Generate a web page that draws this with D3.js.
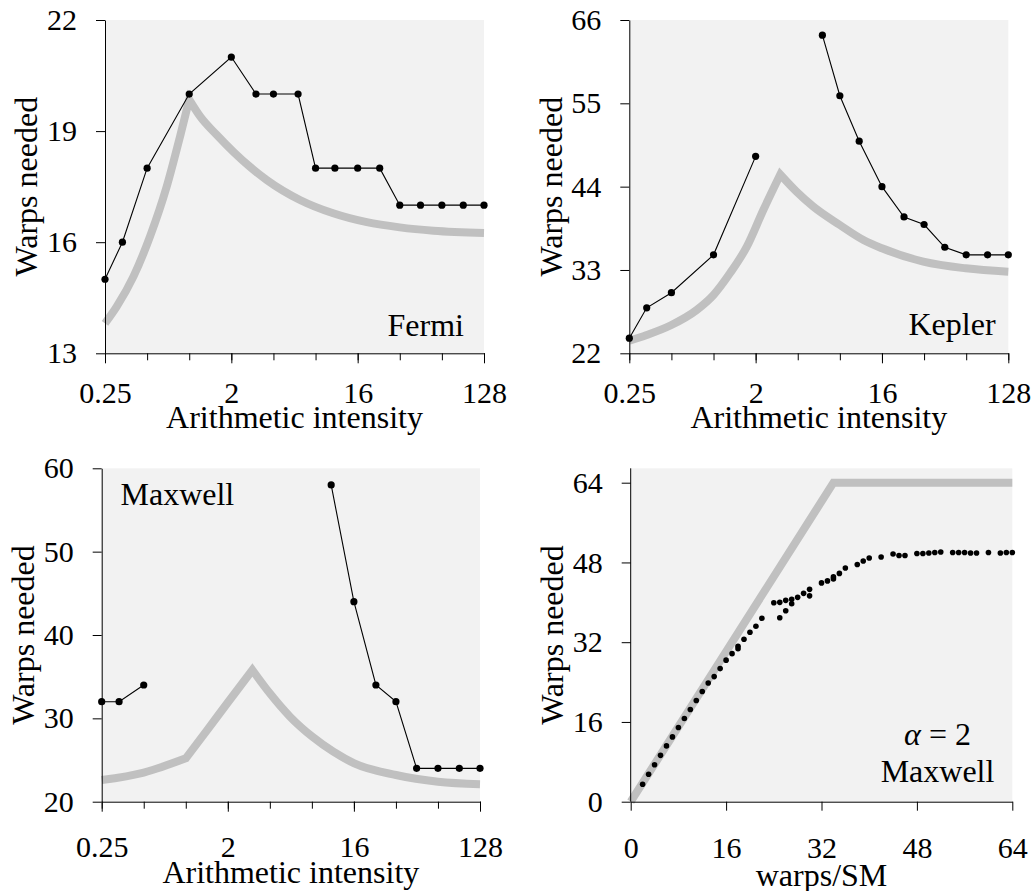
<!DOCTYPE html>
<html><head><meta charset="utf-8">
<script src="https://cdn.jsdelivr.net/npm/d3@7"></script>
<style>
body{margin:0;background:#fff;}
svg text{font-family:"Liberation Serif","Times New Roman",serif;fill:#000;}
</style></head><body>
<svg id="chart" width="1036" height="891"></svg>
<script>
// ---------- data ----------
const intensity = [0.25, 0.333, 0.5, 1, 2, 3, 4, 6, 8, 11, 16, 23, 32, 45, 64, 91, 128];
const fermiMeasured   = [15, 16, 18, 20, 21, 20, 20, 20, 18, 18, 18, 18, 17, 17, 17, 17, 17];
const keplerMeasured  = [24, 28, 30, 35, 48, null, null, 64, 56, 50, 44, 40, 39, 36, 35, 35, 35];
const maxwellMeasured = [32, 32, 34, null, null, null, null, null, null, 58, 44, 34, 32, 24, 24, 24, 24];

// model curves, split at their corners
const fermiModelRiseX = [0.25, 0.303, 0.399, 0.524, 0.69, 0.859, 1];
const fermiModelRiseY = [13.81, 14.26, 15.07, 16.15, 17.5, 18.85, 19.85];
const fermiModelFallX = [1, 1.2, 1.57, 2.07, 2.71, 3.58, 6.19, 10.7, 18.6, 32, 55.7, 128];
const fermiModelFallY = [19.85, 19.39, 18.9, 18.44, 18.04, 17.68, 17.14, 16.78, 16.54, 16.4, 16.31, 16.25];

const keplerModelRiseX = [0.25, 0.333, 0.5, 0.758, 1, 1.31, 1.73, 2.27, 3];
const keplerModelRiseY = [23.67, 24.42, 25.74, 27.72, 29.7, 32.56, 36.08, 40.92, 45.6];
const keplerModelFallX = [3, 3.92, 5.17, 8, 11.8, 16, 31.6, 63.6, 128];
const keplerModelFallY = [45.6, 43.34, 41.36, 38.94, 36.96, 35.86, 34.1, 33.22, 32.78];

const maxwellModelLowX = [0.25, 0.5, 1];
const maxwellModelLowY = [22.6, 23.5, 25.2];
const maxwellModelRiseX = [1, 1.41, 2, 3];
const maxwellModelRiseY = [25.2, 28.5, 31.9, 35.8];
const maxwellModelFallX = [3, 4, 5.58, 8.06, 11.4, 16.1, 32, 64, 128];
const maxwellModelFallY = [35.8, 33.0, 30.2, 27.8, 26.0, 24.6, 23.2, 22.4, 22.1];

const intensityTicks = [0.25, 0.5, 1, 2, 4, 8, 16, 32, 64, 128];
const intensityLabelTicks = [0.25, 2, 16, 128];
const intensityTickLabels = ["0.25", "2", "16", "128"];
const fermiYTicks = [13, 16, 19, 22];
const keplerYTicks = [22, 33, 44, 55, 66];
const maxwellYTicks = [20, 30, 40, 50, 60];

// warps/SM experiment (alpha = 2, Maxwell)
const warpsPerSM = [2,3,4,5,6,7,8,9,10,11,12,13,14,15,16,17,18,18,19,20,21,22,24,25,25,26,26,27,27,28,29,30,30,32,33,34,34,35,36,38,39,40,42,44,45,46,48,49,50,51,52,54,55,56,57,58,60,62,63,64];
const warpsNeededMeasured = [3.5,5.5,7.4,9.3,11.2,13.0,14.9,16.7,18.5,20.3,22.1,23.8,25.1,26.7,28.4,29.7,30.7,31.2,32.6,34.0,35.2,36.8,39.9,36.9,40.0,38.3,40.4,39.7,40.6,41.0,41.8,41.3,42.6,43.9,44.3,44.7,45.1,45.8,46.9,47.6,48.3,48.9,49.1,49.7,49.4,49.4,49.8,49.8,49.9,50.0,50.1,50.0,50.0,50.0,49.9,49.9,50.0,49.9,50.0,50.0];
const warpsModelX = [0, 34, 64];
const warpsModelY = [0, 64, 64];
const warpsTicks = [0, 16, 32, 48, 64];

// ---------- drawing ----------
const svg = d3.select("#chart");
const TICK_FONT = 30, LABEL_FONT = 32;
const BG = "#f2f2f2", MODEL = "#c0c0c0";

function styleAxis(sel) {
  sel.attr("font-size", TICK_FONT).attr("font-family", null);
  sel.selectAll("path,line").attr("stroke", "#000").attr("stroke-width", 1);
}

function modelPath(x, y, segments) {
  const line = d3.line().x(d => x(d[0])).y(d => y(d[1])).curve(d3.curveMonotoneX);
  let d = "";
  segments.forEach((seg, i) => {
    const pts = seg[0].map((v, j) => [v, seg[1][j]]);
    let p = line(pts);
    if (i > 0) p = p.replace(/^M/, "L");
    d += p;
  });
  return d;
}

function aiPanel(o) {
  const g = svg.append("g");
  const x = d3.scaleLog().base(2).domain([0.25, 128]).range([o.left, o.right]);
  const y = d3.scaleLinear().domain(o.yDomain).range([o.bottom, o.top]);
  g.append("rect").attr("x", o.left).attr("y", o.top)
    .attr("width", o.right - o.left).attr("height", o.bottom - o.top).attr("fill", BG);

  g.append("path").attr("d", modelPath(x, y, o.model))
    .attr("fill", "none").attr("stroke", MODEL).attr("stroke-width", 8)
    .attr("stroke-linejoin", "miter").attr("stroke-linecap", "butt");

  const pts = intensity.map((v, i) => [v, o.measured[i]]);
  g.append("path").attr("d", d3.line().defined(d => d[1] != null)
      .x(d => x(d[0])).y(d => y(d[1]))(pts))
    .attr("fill", "none").attr("stroke", "#000").attr("stroke-width", 1.1);
  g.selectAll("circle.m").data(pts.filter(d => d[1] != null)).join("circle")
    .attr("cx", d => x(d[0])).attr("cy", d => y(d[1])).attr("r", 3.6).attr("fill", "#000");

  // axes
  const minor = g.append("g").attr("transform", `translate(0,${o.bottom})`)
    .call(d3.axisBottom(x).tickValues(intensityTicks).tickSize(7).tickSizeOuter(0).tickFormat(""));
  styleAxis(minor);
  const major = g.append("g").attr("transform", `translate(0,${o.bottom})`)
    .call(d3.axisBottom(x).tickValues(intensityLabelTicks).tickSize(10).tickSizeOuter(0)
      .tickFormat((d, i) => intensityTickLabels[i]));
  styleAxis(major);
  major.select(".domain").remove();
  major.selectAll("text").attr("y", o.xLabelOffset).attr("dy", 0);

  const ya = g.append("g").attr("transform", `translate(${o.left},0)`)
    .call(d3.axisLeft(y).tickValues(o.yTicks).tickSize(9).tickPadding(19).tickSizeOuter(0));
  styleAxis(ya);

  g.append("text").attr("x", (o.left + o.right) / 2).attr("y", o.xTitleY)
    .attr("text-anchor", "middle").attr("font-size", LABEL_FONT).text("Arithmetic intensity");
  g.append("text").attr("transform", `translate(${o.left - 79},${(o.top + o.bottom) / 2}) rotate(-90)`)
    .attr("text-anchor", "middle").attr("dy", "0.35em").attr("font-size", LABEL_FONT).text("Warps needed");
  g.append("text").attr("x", o.nameX).attr("y", o.nameY).attr("font-size", LABEL_FONT).text(o.name);
}

aiPanel({left: 105, right: 484, top: 20, bottom: 353.3, yDomain: [13, 22], yTicks: fermiYTicks,
  measured: fermiMeasured,
  model: [[fermiModelRiseX, fermiModelRiseY], [fermiModelFallX, fermiModelFallY]],
  xLabelOffset: 50, xTitleY: 428, name: "Fermi", nameX: 387.5, nameY: 336});

aiPanel({left: 629.3, right: 1008.3, top: 20, bottom: 353.3, yDomain: [22, 66], yTicks: keplerYTicks,
  measured: keplerMeasured,
  model: [[keplerModelRiseX, keplerModelRiseY], [keplerModelFallX, keplerModelFallY]],
  xLabelOffset: 50, xTitleY: 428, name: "Kepler", nameX: 908.5, nameY: 335});

aiPanel({left: 101.7, right: 480, top: 468.3, bottom: 801.7, yDomain: [20, 60], yTicks: maxwellYTicks,
  measured: maxwellMeasured,
  model: [[maxwellModelLowX, maxwellModelLowY], [maxwellModelRiseX, maxwellModelRiseY], [maxwellModelFallX, maxwellModelFallY]],
  xLabelOffset: 55, xTitleY: 883, name: "Maxwell", nameX: 120.5, nameY: 505});

// warps/SM panel
(function () {
  const o = {left: 630.7, right: 1012.3, top: 468.3, bottom: 801.7};
  const g = svg.append("g");
  const x = d3.scaleLinear().domain([0, 64]).range([o.left, o.right]);
  const y = d3.scaleLinear().domain([0, 64]).range([o.bottom, 482.7]);
  g.append("rect").attr("x", o.left).attr("y", o.top)
    .attr("width", o.right - o.left).attr("height", o.bottom - o.top).attr("fill", BG);
  g.append("path").attr("d", d3.line().x(d => x(d[0])).y(d => y(d[1]))(warpsModelX.map((v, i) => [v, warpsModelY[i]])))
    .attr("fill", "none").attr("stroke", MODEL).attr("stroke-width", 8).attr("stroke-linejoin", "miter");
  g.selectAll("circle").data(warpsPerSM.map((v, i) => [v, warpsNeededMeasured[i]])).join("circle")
    .attr("cx", d => x(d[0])).attr("cy", d => y(d[1])).attr("r", 2.8).attr("fill", "#000");
  const xa = g.append("g").attr("transform", `translate(0,${o.bottom})`)
    .call(d3.axisBottom(x).tickValues(warpsTicks).tickSize(9).tickSizeOuter(0));
  styleAxis(xa);
  xa.selectAll("text").attr("y", 56).attr("dy", 0);
  const ya = g.append("g").attr("transform", `translate(${o.left},0)`)
    .call(d3.axisLeft(y).tickValues(warpsTicks).tickSize(9).tickPadding(19).tickSizeOuter(0));
  styleAxis(ya);
  ya.select(".domain").attr("d", `M0,${o.bottom}V${o.top}`);
  g.append("text").attr("x", (o.left + o.right) / 2).attr("y", 886)
    .attr("text-anchor", "middle").attr("font-size", LABEL_FONT).text("warps/SM");
  g.append("text").attr("transform", `translate(${o.left - 79},${(o.top + o.bottom) / 2}) rotate(-90)`)
    .attr("text-anchor", "middle").attr("dy", "0.35em").attr("font-size", LABEL_FONT).text("Warps needed");
  const t = g.append("text").attr("x", 937.5).attr("y", 745).attr("text-anchor", "middle").attr("font-size", LABEL_FONT);
  t.append("tspan").attr("font-style", "italic").text("α");
  t.append("tspan").text(" = 2");
  g.append("text").attr("x", 937.5).attr("y", 781.7).attr("text-anchor", "middle").attr("font-size", LABEL_FONT).text("Maxwell");
})();
</script>
</body></html>
